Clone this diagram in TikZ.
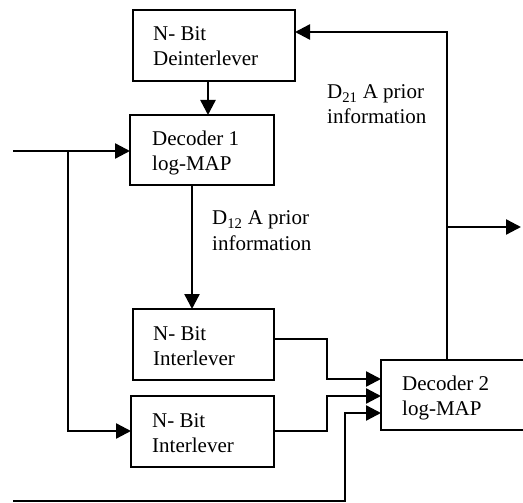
\documentclass[tikz,border=0pt]{standalone}
\usepackage{fontspec}
\setmainfont{Liberation Serif}
\usetikzlibrary{arrows.meta}
\begin{document}
\begin{tikzpicture}[x=1pt,y=-1pt,
  box/.style={draw,line width=2pt,rectangle,inner sep=0pt,outer sep=0pt},
  txt/.style={inner sep=0pt,anchor=base west,align=left,font=\fontsize{21}{25}\selectfont},
  arr/.style={line width=2.4pt,-{Triangle[length=15pt,width=15pt]}}]
\useasboundingbox (0,0) rectangle (523,503);
% boxes
\node[box,minimum width=162pt,minimum height=71pt] (deint) at (214,45.5) {};
\node[box,minimum width=144pt,minimum height=70pt] (dec1) at (202,150) {};
\node[box,minimum width=141pt,minimum height=71pt] (int1) at (203.5,344.5) {};
\node[box,minimum width=143pt,minimum height=71pt] (int2) at (202.5,431.5) {};
\node[box,minimum width=146pt,minimum height=70pt] (dec2) at (454,395) {};
% texts (anchor at baseline of last line)
\node[txt] (tdeint) at (153,66) {N- Bit\\Deinterlever};
\node[txt] (tdec1) at (152,171) {Decoder 1\\log-MAP};
\node[txt] (tint1) at (153,365) {N- Bit\\Interlever};
\node[txt] (tint2) at (152,452) {N- Bit\\Interlever};
\node[txt] (tdec2) at (402,415) {Decoder 2\\log-MAP};
\node[txt] (l21) at (327,124) {D\textsubscript{21} A prior\\information};
\node[txt] (l12) at (212,250) {D\textsubscript{12} A prior\\information};
% coordinates
\coordinate (in1) at (13,151);
\coordinate (br) at (68,151);
\coordinate (in2) at (13,501);
\coordinate (fb) at (447,227);
\coordinate (out) at (521,227);
% connectors
\draw[arr] (in1) -- (dec1.west |- in1);
\draw[arr] (br) -- (68,431) -- (int2.west |- 0,431);
\draw[arr] (deint.south -| 208,0) -- (dec1.north -| 208,0);
\draw[arr] (dec1.south -| 192,0) -- (int1.north -| 192,0);
\draw[arr] (dec2.north -| 447,0) -- (447,32) -- (deint.east |- 0,32);
\draw[arr] (fb) -- (out);
\draw[arr] (int1.east |- 0,339) -- (327,339) -- (327,379) -- (dec2.west |- 0,379);
\draw[arr] (int2.east |- 0,431) -- (327,431) -- (327,396) -- (dec2.west |- 0,396);
\draw[arr] (in2) -- (345,501) -- (345,413) -- (dec2.west |- 0,413);
\end{tikzpicture}
\end{document}
